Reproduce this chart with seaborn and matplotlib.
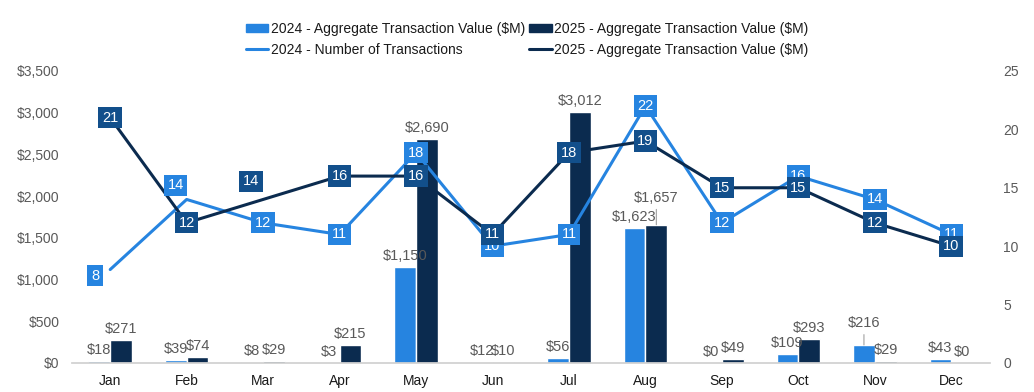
import numpy as np
import pandas as pd
import matplotlib
matplotlib.use('Agg')
import matplotlib.pyplot as plt
import seaborn as sns
from matplotlib.patches import Patch
from matplotlib.lines import Line2D

# data
months = ['Jan', 'Feb', 'Mar', 'Apr', 'May', 'Jun', 'Jul', 'Aug', 'Sep', 'Oct', 'Nov', 'Dec']
value_2024 = [18, 39, 8, 3, 1150, 12, 56, 1623, 0, 109, 216, 43]
value_2025 = [271, 74, 29, 215, 2690, 10, 3012, 1657, 49, 293, 29, 0]
count_2024 = [8, 14, 12, 11, 18, 10, 11, 22, 12, 16, 14, 11]
count_2025 = [21, 12, 14, 16, 16, 11, 18, 19, 15, 15, 12, 10]

bar_lab_24 = '2024 - Aggregate Transaction Value ($M)'
bar_lab_25 = '2025 - Aggregate Transaction Value ($M)'
line_lab_24 = '2024 - Number of Transactions'
line_lab_25 = '2025 - Aggregate Transaction Value ($M)'

light = '#2684E0'
navy = '#0B2B4F'
navy_box = '#124F8B'
grey = '#595959'

bars = pd.DataFrame({
    'month': months * 2,
    'value': value_2024 + value_2025,
    'year': ['2024'] * 12 + ['2025'] * 12,
})

sns.set_theme(style='white')
plt.rcParams['font.family'] = ['Liberation Sans', 'DejaVu Sans']

fig = plt.figure(figsize=(10.34, 3.92), dpi=100)
ax = fig.add_axes([0.0696, 0.074, 0.8874, 0.745])

sns.barplot(data=bars, x='month', y='value', hue='year', order=months,
            palette={'2024': light, '2025': navy}, width=0.57, saturation=1,
            ax=ax, legend=False)
ax.set_ylim(0, 3500)
ax.set_xlim(-0.5, 11.5)
ax.set_yticks(np.arange(0, 3501, 500))
ax.set_yticklabels(['${:,}'.format(v) for v in range(0, 3501, 500)])
ax.set_xlabel('')
ax.set_ylabel('')
ax.tick_params(axis='y', colors=grey, labelsize=10, length=0, pad=9)
ax.tick_params(axis='x', colors='#1a1a1a', labelsize=10, length=0, pad=8)
for s in ['top', 'left', 'right']:
    ax.spines[s].set_visible(False)
ax.spines['bottom'].set_color('#d0d0d0')

# bar labels
x = np.arange(12)
offs = 0.1425
extra = {('2025', 7): 27, ('2024', 10): 22}
for year, vals, dx in [('2024', value_2024, -offs), ('2025', value_2025, offs)]:
    for i, v in enumerate(vals):
        up = extra.get((year, i), 11)
        arrow = None
        if (year, i) in extra:
            arrow = dict(arrowstyle='-', color='#a0a0a0', lw=0.8, shrinkA=1, shrinkB=0)
        ax.annotate('${:,}'.format(v), xy=(i + dx, v), xytext=(0, up),
                    textcoords='offset pixels', ha='center', va='center',
                    fontsize=10.5, color=grey, arrowprops=arrow, zorder=4)

# counts on secondary axis
ax2 = ax.twinx()
lines = pd.DataFrame({
    'pos': list(x) * 2,
    'count': count_2024 + count_2025,
    'series': ['2024'] * 12 + ['2025'] * 12,
})
sns.lineplot(data=lines, x='pos', y='count', hue='series',
             palette={'2024': light, '2025': navy}, linewidth=2.2,
             ax=ax2, legend=False, sort=False)
ax2.set_ylim(0, 25)
ax2.set_yticks(range(0, 26, 5))
ax2.set_xlabel('')
ax2.set_ylabel('')
ax2.tick_params(axis='y', colors=grey, labelsize=10, length=0, pad=10)
for s in ['top', 'left', 'right', 'bottom']:
    ax2.spines[s].set_visible(False)

# boxed point labels
nudge = {('2024', 0): (-15, -6), ('2024', 1): (-11, 14), ('2025', 2): (-12, 18)}
for year, vals, fc in [('2024', count_2024, light), ('2025', count_2025, navy_box)]:
    for i, v in enumerate(vals):
        dx, dy = nudge.get((year, i), (0, 0))
        ax2.annotate(str(v), xy=(i, v), xytext=(dx, dy), textcoords='offset pixels',
                     ha='center', va='center', fontsize=10.5, color='white',
                     bbox=dict(boxstyle='square,pad=0.25', fc=fc, ec='none'),
                     zorder=5)

handles = [Patch(color=light), Line2D([], [], color=light, lw=2.2),
           Patch(color=navy), Line2D([], [], color=navy, lw=2.2)]
labels = [bar_lab_24, line_lab_24, bar_lab_25, line_lab_25]
fig.legend(handles, labels, loc='upper center', bbox_to_anchor=(0.51, 0.975), ncol=2,
           frameon=False, fontsize=10, handlelength=1.6, handleheight=0.5,
           handletextpad=0.2, columnspacing=0.3, labelspacing=0.45,
           labelcolor='#1a1a1a')

fig.savefig('out.png', dpi=100)
